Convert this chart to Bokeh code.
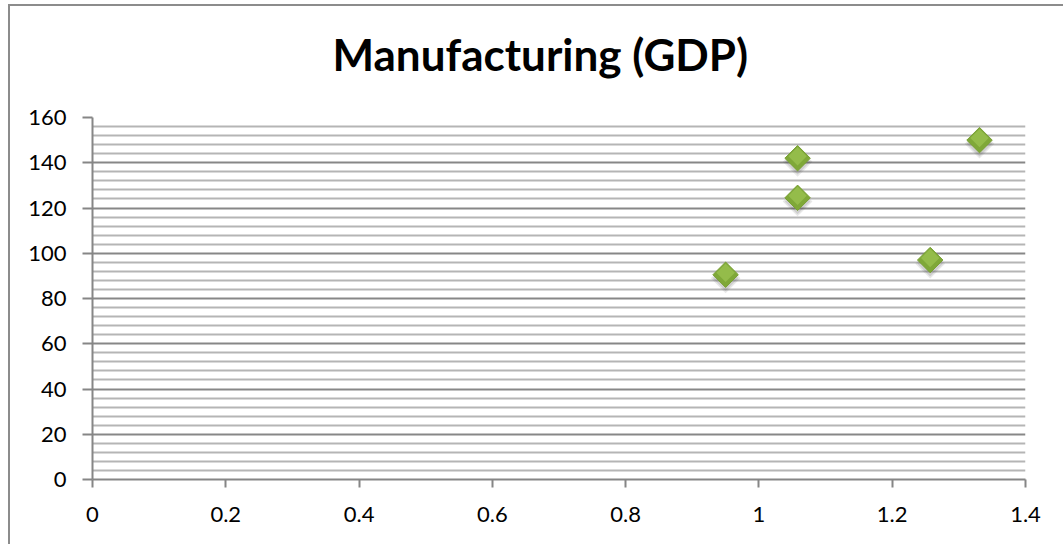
import numpy as np
from bokeh.plotting import figure
from bokeh.models import (Range1d, FixedTicker, ColumnDataSource,
                          NumeralTickFormatter, Title)
from bokeh.embed import file_html
from bokeh.resources import INLINE

# Manufacturing ratio vs. GDP index
ratio = [0.95, 1.058, 1.058, 1.257, 1.331]
gdp = [90.5, 124.5, 142.0, 97.0, 150.0]

x_ticks = [0, 0.2, 0.4, 0.6, 0.8, 1.0, 1.2, 1.4]
y_ticks = [0, 20, 40, 60, 80, 100, 120, 140, 160]
y_minor = [v for v in range(0, 161, 4) if v % 20 != 0]
title_text = "Manufacturing (GDP)"

FONT = "Lato"
AXIS_GREY = "#868686"
EDGE = "#8c8c8c"

p = figure(width=1063, height=544, output_backend="svg", toolbar_location=None,
           x_range=Range1d(0, 1.4), y_range=Range1d(0, 160),
           min_border_left=92, min_border_right=38,
           min_border_top=117, min_border_bottom=65)
p.outline_line_color = None
p.background_fill_color = "white"
p.border_fill_color = None
# chart-area edge (left and top) painted behind the transparent canvas border
p.styles = {
    "background": (f"linear-gradient({EDGE},{EDGE}) 8px 4px / 2px 100% no-repeat, "
                   f"linear-gradient({EDGE},{EDGE}) 8px 4px / 100% 2px no-repeat, "
                   "white"),
}

# title, with a small spacer panel between it and the plot frame
p.title.text = title_text
p.title.align = "left"
p.title.offset = 332 - 92
p.title.standoff = 0
p.title.text_font = FONT
p.title.text_font_style = "bold"
p.title.text_font_size = "44px"
p.title.text_color = "black"
p.add_layout(Title(text=" ", text_font_size="2px", standoff=34), "above")

# axes
for ax in (p.xaxis[0], p.yaxis[0]):
    ax.axis_line_color = AXIS_GREY
    ax.axis_line_width = 2
    ax.major_tick_line_color = AXIS_GREY
    ax.major_tick_line_width = 2
    ax.major_tick_in = 0
    ax.minor_tick_in = 0
    ax.minor_tick_out = 0
    ax.major_label_text_font = FONT
    ax.major_label_text_font_size = "22px"
    ax.major_label_text_color = "black"

p.xaxis.ticker = FixedTicker(ticks=x_ticks)
p.xaxis.formatter = NumeralTickFormatter(format="0.[0]")
p.xaxis.major_tick_out = 8
p.xaxis.major_label_standoff = 19

p.yaxis.ticker = FixedTicker(ticks=y_ticks)
p.yaxis.major_tick_out = 10
p.yaxis.major_label_standoff = 16

# grid: dark major lines, lighter minor lines every 4 units
p.xgrid.grid_line_color = None
p.ygrid.ticker = FixedTicker(ticks=y_ticks, minor_ticks=y_minor)
p.ygrid.grid_line_color = "#878787"
p.ygrid.grid_line_width = 2
p.ygrid.minor_grid_line_color = "#b5b5b5"
p.ygrid.minor_grid_line_width = 2

# markers: soft shadow, green diamond, lighter upper highlight
src = ColumnDataSource(dict(x=ratio, y=gdp,
                            ys=[v - 1.6 for v in gdp],
                            yh=[v + 0.9 for v in gdp]))
p.scatter("x", "ys", source=src, marker="square", angle=np.pi / 4, size=21,
          fill_color="#404040", fill_alpha=0.12, line_color=None)
p.scatter("x", "ys", source=src, marker="square", angle=np.pi / 4, size=18,
          fill_color="#404040", fill_alpha=0.15, line_color=None)
p.scatter("x", "y", source=src, marker="square", angle=np.pi / 4, size=18,
          fill_color="#7fa838", line_color="#78a034", line_width=1)
p.scatter("x", "yh", source=src, marker="square", angle=np.pi / 4, size=13,
          fill_color="#9cc452", fill_alpha=0.7, line_color=None)

open("out.html", "w").write(file_html(p, INLINE))
